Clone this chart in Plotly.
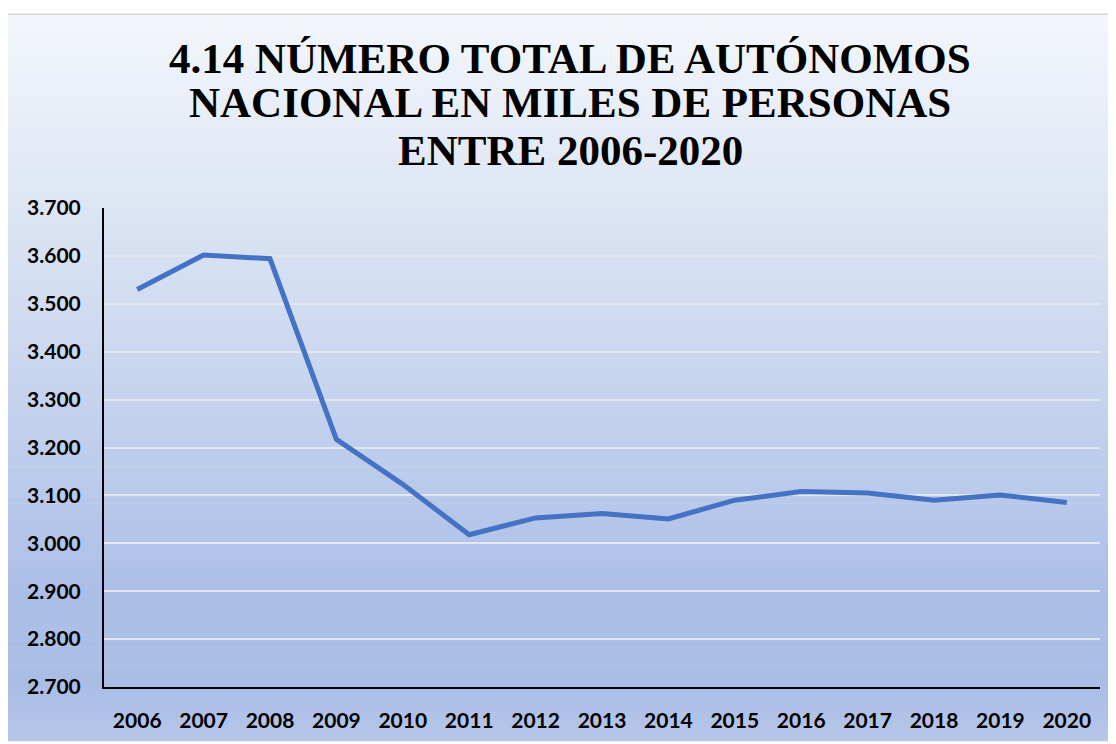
import plotly.graph_objects as go

years = ["2006", "2007", "2008", "2009", "2010", "2011", "2012", "2013",
         "2014", "2015", "2016", "2017", "2018", "2019", "2020"]
autonomos = [3530, 3602, 3594, 3217, 3123, 3018, 3053, 3062,
             3051, 3090, 3108, 3105, 3090, 3101, 3085]
y_ticks = [2700, 2800, 2900, 3000, 3100, 3200, 3300, 3400, 3500, 3600, 3700]
y_tick_labels = ["2.700", "2.800", "2.900", "3.000", "3.100", "3.200",
                 "3.300", "3.400", "3.500", "3.600", "3.700"]
title_lines = ["4.14 NÚMERO TOTAL DE AUTÓNOMOS",
               "NACIONAL EN MILES DE PERSONAS",
               "ENTRE 2006-2020"]

OFF = 8  # page body margin
W, H = 1116 - OFF, 744 - OFF
# plot area in screen pixels: x 104..1100, y 208..690
L, T = 104 - OFF, 208 - OFF
PW, PH = 996, 482
R, B = W - L - PW, H - T - PH


def px_x(sx):
    return (sx - OFF - L) / PW


def px_y(sy):
    return (T + PH - (sy - OFF)) / PH


# gradient stops (screen y, rgb)
stops = [(13, (243, 246, 251)), (200, (222, 230, 244)), (420, (194, 209, 237)),
         (600, (171, 190, 230)), (690, (170, 189, 229)), (744, (182, 199, 233))]


def color_at(sy):
    for (y0, c0), (y1, c1) in zip(stops[:-1], stops[1:]):
        if y0 <= sy <= y1:
            t = (sy - y0) / (y1 - y0)
            return "rgb(%d,%d,%d)" % tuple(round(a + (b - a) * t) for a, b in zip(c0, c1))
    return "rgb(%d,%d,%d)" % stops[-1][1]


shapes = []
step = 6
yy = 13
while yy < 744:
    y2 = min(yy + step, 744)
    shapes.append(dict(type="rect", xref="paper", yref="paper",
                       x0=px_x(7), x1=px_x(1120), y0=px_y(y2 + 0.5), y1=px_y(yy),
                       fillcolor=color_at((yy + y2) / 2), line=dict(width=0),
                       layer="below"))
    yy = y2
shapes.append(dict(type="rect", xref="paper", yref="paper",
                   x0=px_x(7), x1=px_x(1125), y0=px_y(750), y1=px_y(13),
                   fillcolor="rgba(0,0,0,0)", line=dict(color="#d6d6d6", width=1.5),
                   layer="below"))

fig = go.Figure()
fig.add_trace(go.Scatter(x=years, y=autonomos, mode="lines",
                         line=dict(color="#4472C4", width=5), hoverinfo="x+y"))

annotations = []
for txt, cy in zip(title_lines, [58, 102, 150]):
    annotations.append(dict(text="<b>%s</b>" % txt, xref="paper", yref="paper",
                             x=px_x(570), y=px_y(cy), xanchor="center", yanchor="middle",
                             showarrow=False,
                             font=dict(family="'Liberation Serif', Tinos, 'Times New Roman', 'DejaVu Serif', serif",
                                       size=43, color="#000000")))

fig.update_layout(
    width=W, height=H,
    margin=dict(l=L, r=R, t=T, b=B),
    paper_bgcolor="white",
    plot_bgcolor="rgba(0,0,0,0)",
    showlegend=False,
    shapes=shapes,
    annotations=annotations,
    xaxis=dict(type="category", range=[-0.5, 14.5], showgrid=False,
               showline=True, linecolor="#000000", linewidth=2,
               ticks="", ticklabelstandoff=14,
               tickfont=dict(family="Lato", size=21, color="#000000", weight="bold")),
    yaxis=dict(range=[2700, 3700], tickvals=y_ticks, ticktext=y_tick_labels,
               showgrid=True, gridcolor="#e2e6ef", gridwidth=2,
               showline=True, linecolor="#000000", linewidth=2,
               zeroline=False, ticks="", ticklabelstandoff=17,
               tickfont=dict(family="Lato", size=21, color="#000000", weight="bold")),
)

fig.write_html("out.html")
